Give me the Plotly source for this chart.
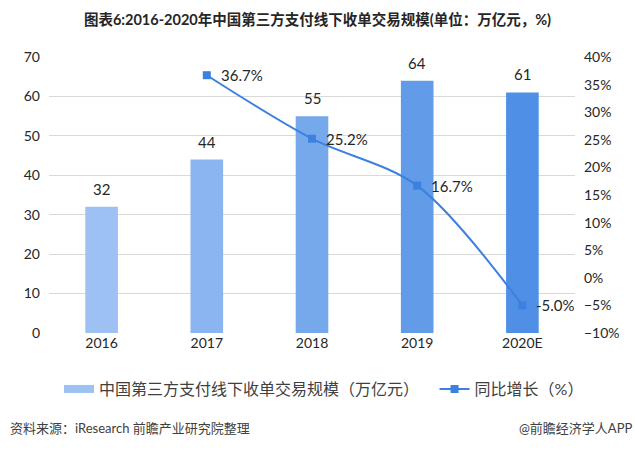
import plotly.graph_objects as go

years = ["2016", "2017", "2018", "2019", "2020E"]
scale = [32, 44, 55, 64, 61]
growth_years = ["2017", "2018", "2019", "2020E"]
growth = [36.7, 25.2, 16.7, -5.0]
bar_colors = ["#9DC1F3", "#8AB5F0", "#76A8EC", "#629BE8", "#4F8FE5"]
line_color = "#3C80E0"

FONT = "Lato, 'Noto Sans CJK SC', sans-serif"

fig = go.Figure()
fig.add_trace(go.Bar(
    x=years, y=scale, marker=dict(color=bar_colors, line=dict(width=0)),
    width=0.31, showlegend=False, yaxis="y"))
for i, yv in enumerate(scale):
    fig.add_annotation(x=i, y=yv, xref="x", yref="y", text=str(yv), showarrow=False,
                       yanchor="bottom", yshift=7,
                       font=dict(size=15, color="#262626", family=FONT))
fig.add_trace(go.Scatter(
    x=[years[0]], y=[None], mode="lines", line=dict(color="#9DC1F3", width=8),
    name="中国第三方支付线下收单交易规模（万亿元）", yaxis="y", legend="legend"))
fig.add_trace(go.Scatter(
    x=growth_years, y=growth, mode="lines+markers",
    line=dict(color=line_color, width=2, shape="spline", smoothing=0.9),
    marker=dict(symbol="square", size=8, color=line_color),
    cliponaxis=False, name="同比增长（%）", yaxis="y2", legend="legend2"))
for gx, gv in zip(growth_years, growth):
    fig.add_annotation(x=years.index(gx), y=gv, xref="x", yref="y2", text=f"{gv:.1f}%",
                       showarrow=False, xanchor="left", yanchor="middle", xshift=12,
                       font=dict(size=15, color="#262626", family=FONT))

legend_common = dict(orientation="h", y=-0.203, yanchor="middle", bgcolor="rgba(0,0,0,0)",
                     font=dict(size=16, color="#404040"), itemwidth=30)
fig.update_layout(
    width=635, height=449,
    margin=dict(l=49, r=60, t=57, b=116),
    paper_bgcolor="white", plot_bgcolor="white",
    font=dict(family=FONT, color="#595959", size=14),
    title=dict(text="<b>图表6:2016-2020年中国第三方支付线下收单交易规模(单位：万亿元，%)</b>",
               x=0.5, xanchor="center", y=1 - 20 / 449, yanchor="middle",
               font=dict(size=14.5, color="#262626")),
    xaxis=dict(type="category", categoryorder="array", categoryarray=years,
               range=[-0.5, len(years) - 0.5],
               showgrid=False, showline=False, ticks="", tickfont=dict(size=14, color="#262626")),
    yaxis=dict(range=[0, 70], dtick=10, showgrid=True, gridcolor="#D9D9D9", gridwidth=1,
               zeroline=False, showline=False, ticks="", ticklabelstandoff=8,
               tickfont=dict(size=14, color="#262626")),
    yaxis2=dict(range=[-10, 40], dtick=5, overlaying="y", side="right", showgrid=False,
                zeroline=False, showline=False, ticksuffix="%", ticks="", ticklabelstandoff=8,
                tickfont=dict(size=14, color="#262626")),
    legend=dict(x=0.019, xanchor="left", **legend_common),
    legend2=dict(x=0.733, xanchor="left", **legend_common),
)
fig.add_annotation(text="资料来源：iResearch 前瞻产业研究院整理", xref="paper", yref="paper",
                   x=-0.078, y=-0.344, xanchor="left", yanchor="middle", showarrow=False,
                   font=dict(size=13, color="#404040"))
fig.add_annotation(text="@前瞻经济学人APP", xref="paper", yref="paper",
                   x=1.112, y=-0.344, xanchor="right", yanchor="middle", showarrow=False,
                   font=dict(size=13, color="#404040"))

fig.write_html("out.html", config={"displayModeBar": False},
               post_script="document.body.style.margin='0px';document.body.style.overflow='hidden';")
